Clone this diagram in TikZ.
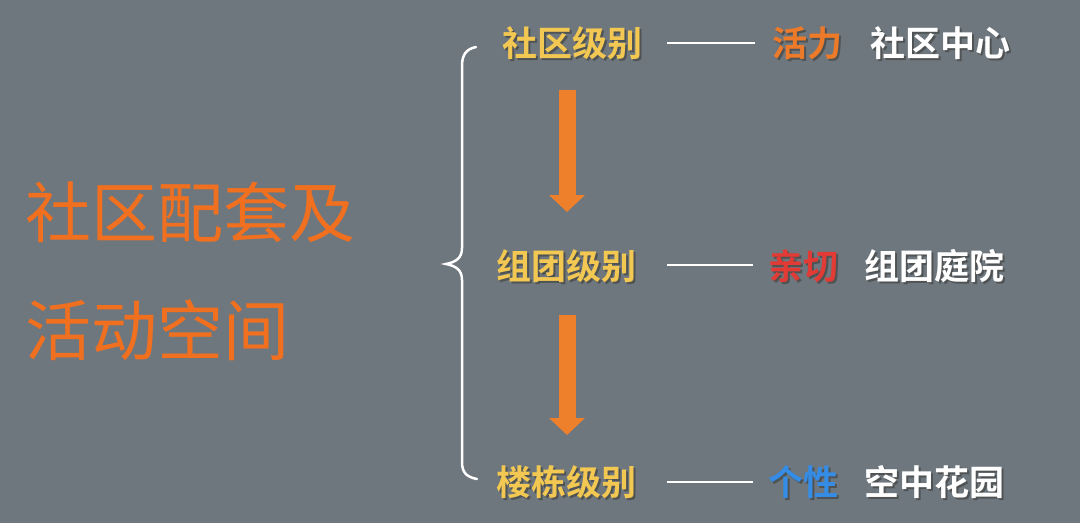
\documentclass[tikz,border=0pt]{standalone}
\usepackage{fontspec}
\newfontfamily\cjk{Noto Sans CJK SC}
\newfontfamily\cjkb{Noto Sans CJK SC Bold}
\usetikzlibrary{arrows.meta}
\definecolor{bg}{RGB}{110,118,126}
\definecolor{ttl}{RGB}{240,112,32}
\definecolor{lvl}{RGB}{242,200,82}
\definecolor{ora}{RGB}{236,122,40}
\definecolor{redc}{RGB}{226,58,52}
\definecolor{bluc}{RGB}{52,140,228}
\definecolor{arrc}{RGB}{238,128,44}
\definecolor{shd}{RGB}{70,72,70}
\tikzset{
  title/.style={anchor=west,inner sep=0pt,text=ttl,font=\cjk\fontsize{66}{66}\selectfont,text height=51pt,text depth=0pt},
  lab/.style={inner sep=0pt,font=\cjkb\fontsize{35}{35}\selectfont,text height=27pt,text depth=0pt},
  shadow/.style={text=shd,opacity=0.75},
  dashline/.style={draw=white,line width=2.6pt},
  bigarrow/.style={draw=arrc,line width=17pt,-{Triangle[width=35pt,length=17pt]}},
  bracepath/.style={draw=white,line width=2.5pt,line cap=round}
}
\newcommand{\shlabel}[4]{% name, position, color, text
  \node[lab,shadow] at ([xshift=2pt,yshift=-2pt]#2) {#4};
  \node[lab,text=#3] (#1) at (#2) {#4};
}
\begin{document}
\begin{tikzpicture}[x=1pt,y=-1pt]
\fill[bg] (0,0) rectangle (1080,523);
\useasboundingbox (0,0) rectangle (1080,523);
% left title
\node[title] (t1) at (25,212) {社区配套及};
\node[title] (t2) at (25,330) {活动空间};
% brace
\draw[bracepath] (476,47) .. controls (466,49) and (462,55) .. (462,66)
  -- (462,248) .. controls (462,258) and (456,262) .. (446,264)
  .. controls (456,266) and (462,270) .. (462,280)
  -- (462,462) .. controls (462,472) and (466,477) .. (477,479);
% level labels
\shlabel{l1}{572,43}{lvl}{社区级别}
\shlabel{l2}{566,266}{lvl}{组团级别}
\shlabel{l3}{566,482}{lvl}{楼栋级别}
% adjectives
\shlabel{a1}{807,43}{ora}{活力}
\shlabel{a2}{803,266}{redc}{亲切}
\shlabel{a3}{803,482}{bluc}{个性}
% places
\shlabel{p1}{940,43}{white}{社区中心}
\shlabel{p2}{934,266}{white}{组团庭院}
\shlabel{p3}{934,482}{white}{空中花园}
% lines
\coordinate (d1a) at (667,43); \coordinate (d1b) at (755,43);
\coordinate (d2a) at (667,265); \coordinate (d2b) at (753,265);
\coordinate (d3a) at (667,482); \coordinate (d3b) at (753,482);
\draw[dashline] (d1a) -- (d1b);
\draw[dashline] (d2a) -- (d2b);
\draw[dashline] (d3a) -- (d3b);
% arrows
\coordinate (ar1s) at (567,90); \coordinate (ar1e) at (567,212);
\coordinate (ar2s) at (567,315); \coordinate (ar2e) at (567,435);
\draw[bigarrow] (ar1s) -- (ar1e);
\draw[bigarrow] (ar2s) -- (ar2e);
\end{tikzpicture}
\end{document}
